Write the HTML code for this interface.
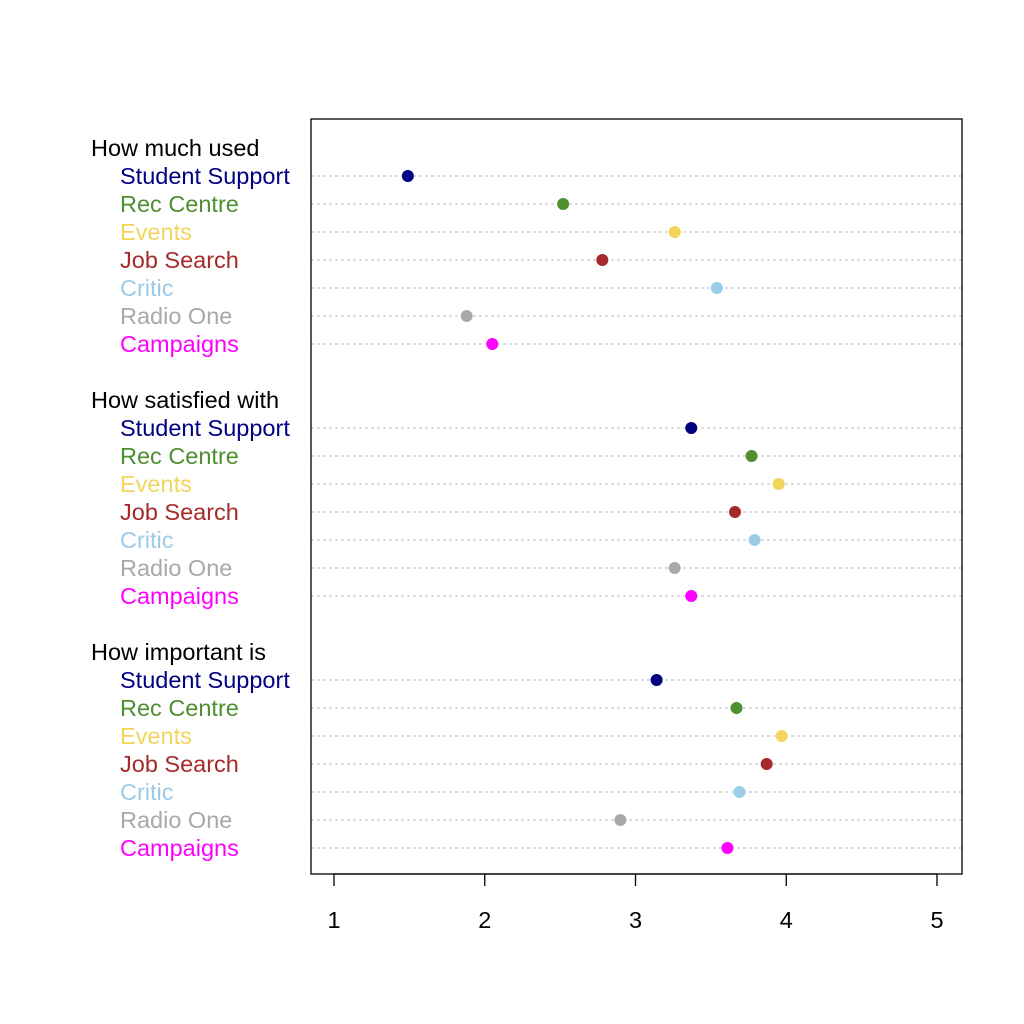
<!DOCTYPE html>
<html><head><meta charset="utf-8"><style>body{margin:0;background:#fff}svg{display:block}</style></head>
<body>
<svg id="chart" width="1024" height="1024" xmlns="http://www.w3.org/2000/svg" font-family="Liberation Sans, sans-serif"></svg>
<script>
const groups = ["How much used","How satisfied with","How important is"];
const items = ["Student Support","Rec Centre","Events","Job Search","Critic","Radio One","Campaigns"];
const colors = ["#000080","#4e8f2f","#f2d55a","#a52a2a","#9ccbe8","#a9a9a9","#ff00ff"];
const usedValues = [1.49,2.52,3.26,2.78,3.54,1.88,2.05];
const satisfiedValues = [3.37,3.77,3.95,3.66,3.79,3.26,3.37];
const importantValues = [3.14,3.67,3.97,3.87,3.69,2.90,3.61];
const xTicks = [1,2,3,4,5];
const series = [usedValues, satisfiedValues, importantValues];

const svg = document.getElementById('chart');
const NS = "http://www.w3.org/2000/svg";
const L=311,R=962,T=119,B=874;
const FS = 23.5;
const x = v => 334 + (v-1)*150.75;
const yLine = i => 148 + i*28;
function mk(tag, attrs, parent){const e=document.createElementNS(NS,tag);for(const k in attrs)e.setAttribute(k,attrs[k]);(parent||svg).appendChild(e);return e;}

groups.forEach((g,gi)=>{
  const base = gi*9;
  const h = mk('text',{x:91,y:yLine(base)+8,'font-size':FS,fill:'#000'});
  
  
  h.textContent=g;
  items.forEach((it,ii)=>{
    const yy = yLine(base+1+ii);
    const ln = mk('line',{x1:L,x2:R,y1:yy,y2:yy,stroke:'#bbb','stroke-width':1,'stroke-dasharray':'3,3'});
    
    
    const t = mk('text',{x:120,y:yy+8,'font-size':FS,fill:colors[ii]});
    
    
    t.textContent=it;
    const c = mk('circle',{cx:x(series[gi][ii]),cy:yy,r:6,fill:colors[ii]});
    
    
  });
});
const box = mk('rect',{x:L,y:T,width:R-L,height:B-T,fill:'none',stroke:'#000','stroke-width':1.3});


const ax = mk('line',{x1:x(1),x2:x(5),y1:B,y2:B,stroke:'#000','stroke-width':1.3});


xTicks.forEach(v=>{
  const tk = mk('line',{x1:x(v),x2:x(v),y1:B,y2:B+12,stroke:'#000','stroke-width':1.3});
  
  
  const tl = mk('text',{x:x(v),y:928,'font-size':FS,'text-anchor':'middle',fill:'#000'});
  
  
  tl.textContent=v;
});
</script>
</body></html>
